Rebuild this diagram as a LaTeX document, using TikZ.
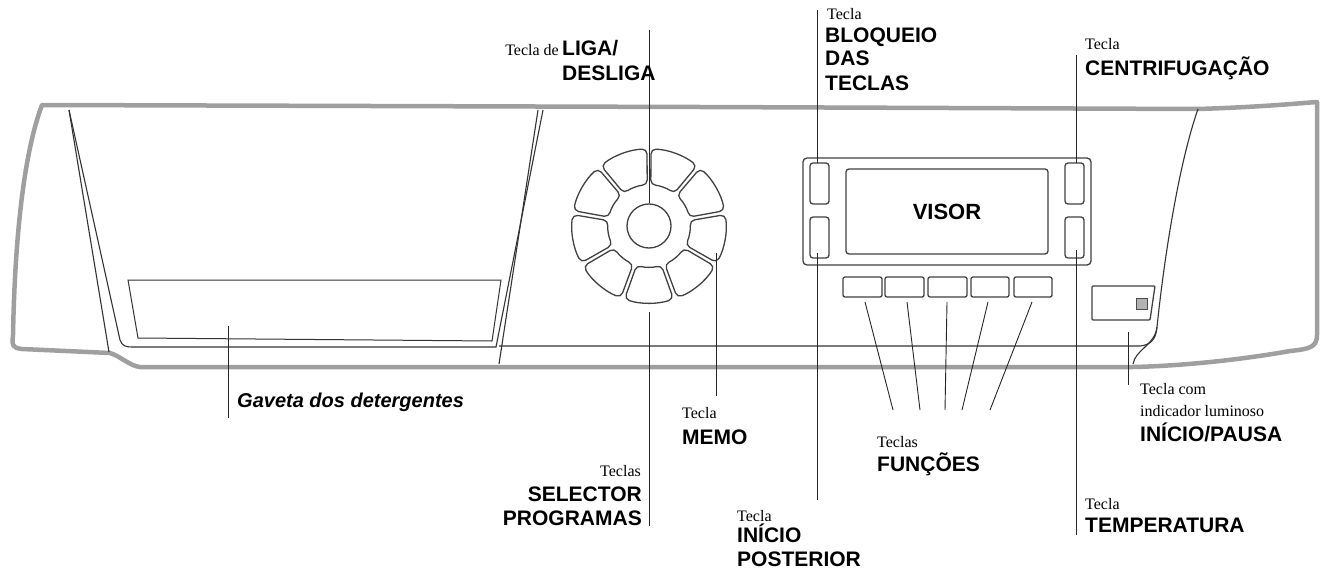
\documentclass[tikz,border=0pt]{standalone}
\usepackage{fontspec}
\usetikzlibrary{calc}
\setmainfont{Liberation Serif}
\setsansfont{Liberation Sans}
\begin{document}
\begin{tikzpicture}[x=1pt,y=-1pt,
  outer/.style={draw=gray!75,line width=4.5pt,line join=round},
  thin/.style={draw=black!80,line width=1.1pt},
  btn/.style={draw=black!75,line width=1.3pt,rounded corners=3pt},
  lead/.style={draw=black!85,line width=0.9pt},
  small/.style={font=\fontsize{16}{17}\selectfont\rmfamily,inner sep=0pt},
  big/.style={font=\fontsize{21}{22}\selectfont\sffamily\bfseries,inner sep=0pt}]
\useasboundingbox (0,0) rectangle (1332,578);
% outer panel
\draw[outer] (42,105) -- (700,107) -- (1198,109) .. controls (1260,107) and (1290,104) .. (1317,102)
  -- (1317,335) .. controls (1317,347) and (1310,349) .. (1290,351) .. controls (1240,360) and (1180,366) .. (1133,367)
  -- (140,367) .. controls (130,366) and (120,356) .. (110,353) -- (22,349) .. controls (12,348) and (12,345) .. (13,335)
  .. controls (15,230) and (25,150) .. (42,105) -- cycle;
% inner lines left
\draw[thin] (69,110) -- (109,352);
\draw[thin] (69,110) -- (120,340) .. controls (122,346) and (126,347) .. (132,347) -- (496,347) -- (543,110);
\draw[thin] (538,110) -- (499,364);
\draw[thin] (499,346) -- (1140,346) .. controls (1150,345) and (1156,340) .. (1157,327)
  .. controls (1165,250) and (1180,160) .. (1198,109);
\draw[thin] (1157,327) .. controls (1155,345) and (1135,350) .. (1133,364);
% drawer
\draw[thin,line width=1pt] (128,280) -- (501,280) -- (492,341) -- (138,338) -- cycle;
% dial
\coordinate (dc) at (649,226);
\draw[btn] (dc) circle[radius=22];
\foreach \c in {10,50,90,130,170,210,250,290,330}{
  \draw[btn,rounded corners=5pt] ($(dc)+(\c-18.5:77)$) arc[start angle=\c-18.5,end angle=\c+18.5,radius=77]
    -- ($(dc)+(\c+17.5:41)$) arc[start angle=\c+17.5,end angle=\c-17.5,radius=41] -- cycle;
}
% display
\draw[btn,rounded corners=4pt] (803,158) rectangle (1091,265);
\draw[btn] (810,163) rectangle (829,204);
\draw[btn] (810,217) rectangle (829,258);
\draw[btn] (1065,163) rectangle (1084,204);
\draw[btn] (1065,217) rectangle (1084,258);
\draw[btn] (846,169) rectangle (1048,254);
\node[font=\fontsize{22}{22}\selectfont\sffamily\bfseries] (visor) at (947,212) {VISOR};
\foreach \a/\b in {843/882,885/924,928/967,971/1009,1014/1052}{
  \draw[btn,rounded corners=2pt] (\a,277) rectangle (\b,297);
}
% start/pause
\draw[btn,rounded corners=1pt] (1092,286) -- (1155,286) -- (1150,320) -- (1092,320) -- cycle;
\draw[black!70,fill=gray!60,line width=0.8pt] (1136,298) rectangle (1147,309);
% leaders
\coordinate (l1a) at (649,30); \coordinate (l1b) at (649,203); \draw[lead] (l1a) -- (l1b);
\coordinate (l2a) at (649,312); \coordinate (l2b) at (649,526); \draw[lead] (l2a) -- (l2b);
\coordinate (l3a) at (716,253); \coordinate (l3b) at (716,396); \draw[lead] (l3a) -- (l3b);
\coordinate (l4a) at (817,10); \coordinate (l4b) at (817,163); \draw[lead] (l4a) -- (l4b);
\coordinate (l5a) at (817,253); \coordinate (l5b) at (817,500); \draw[lead] (l5a) -- (l5b);
\coordinate (l6a) at (1076,55); \coordinate (l6b) at (1076,163); \draw[lead] (l6a) -- (l6b);
\coordinate (l7a) at (1076,250); \coordinate (l7b) at (1076,535); \draw[lead] (l7a) -- (l7b);
\coordinate (l8a) at (1128,332); \coordinate (l8b) at (1128,385); \draw[lead] (l8a) -- (l8b);
\coordinate (l9a) at (228,326); \coordinate (l9b) at (228,418); \draw[lead] (l9a) -- (l9b);
\foreach \s/\e in {865/893,907/920,947/945,988/962,1032/990}{
  \draw[lead] (\s,302) -- (\e,410);
}
% labels
\node[small,anchor=base east] (t1) at (559,56) {Tecla de};
\node[big,anchor=base west] (t1b) at (562,56) {LIGA/};
\node[big,anchor=base west] (t1c) at (562,80) {DESLIGA};
\node[small,anchor=base west] (t2) at (827,20) {Tecla};
\node[big,anchor=base west] (t2b) at (825,42) {BLOQUEIO};
\node[big,anchor=base west] (t2c) at (825,66) {DAS};
\node[big,anchor=base west] (t2d) at (825,90) {TECLAS};
\node[small,anchor=base west] (t3) at (1085,50) {Tecla};
\node[big,anchor=base west] (t3b) at (1085,75) {CENTRIFUGAÇÃO};
\node[anchor=base west,inner sep=0pt,font=\fontsize{20}{20}\selectfont\sffamily\bfseries\itshape] (t4) at (237,407) {Gaveta dos detergentes};
\node[small,anchor=base west] (t5) at (682,418) {Tecla};
\node[big,anchor=base west] (t5b) at (682,444) {MEMO};
\node[small,anchor=base east] (t6) at (641,476) {Teclas};
\node[big,anchor=base east] (t6b) at (642,501) {SELECTOR};
\node[big,anchor=base east] (t6c) at (642,525) {PROGRAMAS};
\node[small,anchor=base west] (t7) at (737,521) {Tecla};
\node[big,anchor=base west] (t7b) at (737,542) {INÍCIO};
\node[big,anchor=base west] (t7c) at (737,566) {POSTERIOR};
\node[small,anchor=base west] (t8) at (877,447) {Teclas};
\node[big,anchor=base west] (t8b) at (877,471) {FUNÇÕES};
\node[small,anchor=base west] (t9) at (1085,509) {Tecla};
\node[big,anchor=base west] (t9b) at (1085,532) {TEMPERATURA};
\node[small,anchor=base west] (t10) at (1140,394) {Tecla com};
\node[small,anchor=base west] (t10b) at (1140,416) {indicador luminoso};
\node[big,anchor=base west] (t10c) at (1140,441) {INÍCIO/PAUSA};
\end{tikzpicture}
\end{document}
